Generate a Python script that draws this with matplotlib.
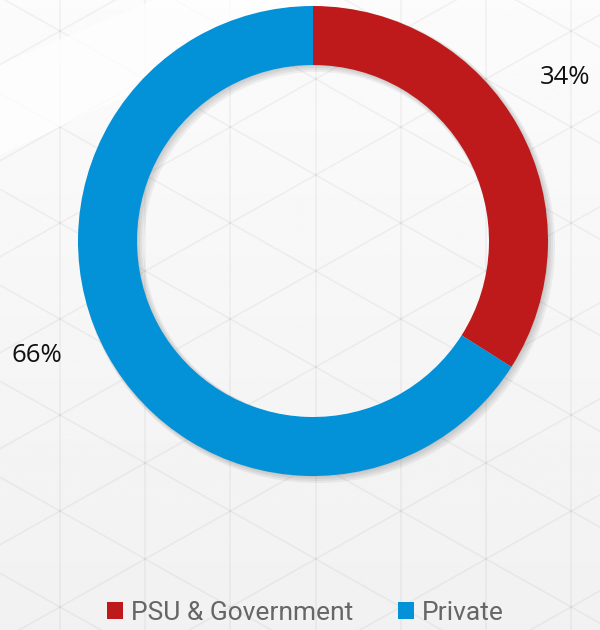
import numpy as np
import matplotlib.pyplot as plt
from matplotlib.patches import Wedge, Polygon, Patch

# data
labels = ["PSU & Government", "Private"]
values = [34, 66]
pct_text = ["34%", "66%"]
colors = ["#BF1A1B", "#0391D8"]

W, H = 600, 630
fig = plt.figure(figsize=(6, 6.3), dpi=100)
fig.patch.set_facecolor("#f3f3f3")
ax = fig.add_axes([0, 0, 1, 1])

# background: light vertical gradient
grad = np.linspace(0.945, 0.985, 256).reshape(-1, 1)
ax.imshow(grad, extent=(0, W, 0, H), origin="lower", cmap="gray",
          vmin=0, vmax=1, aspect="auto", zorder=0)

# faint triangle lattice
dx, dy = 85.2, 48.0
x0 = 60
slope = dy / dx
for k in range(-2, 10):
    ax.axvline(x0 + k * dx, color="black", alpha=0.045, lw=1.2, zorder=0.2)
xs = np.array([-50, W + 50])
for k in range(-30, 30):
    b = k * 2 * dy + 23
    ax.plot(xs, b + slope * (xs - x0), color="black", alpha=0.045, lw=1.2, zorder=0.2)
    ax.plot(xs, b - slope * (xs - x0), color="black", alpha=0.045, lw=1.2, zorder=0.2)

# lighter band top-left
ax.add_patch(Polygon([(0, H - 65), (153, H), (330, H), (0, H - 155)],
                     closed=True, color="white", alpha=0.7, lw=0, zorder=0.5))

cx, cy, r = 313, H - 241, 235
width = 59

# soft shadow behind the ring
for i in range(4):
    off = 1 + i
    ax.add_patch(Wedge((cx + off, cy - off), r + i, 0, 360, width=width + 2 * i,
                       color="black", alpha=0.05, lw=0, zorder=1))

wedges, _ = ax.pie(values, colors=colors, startangle=90, counterclock=False,
                   radius=r, center=(cx, cy), frame=True,
                   wedgeprops=dict(width=width, linewidth=0))
for w in wedges:
    w.set_zorder(2)
ax.set_xlim(0, W)
ax.set_ylim(0, H)
ax.set_aspect("equal")
ax.axis("off")

# percentage labels
label_pos = [(565, H - 78), (37, H - 355)]
for t, (x, y) in zip(pct_text, label_pos):
    ax.text(x, y, t, ha="center", va="center", fontsize=18.5,
            family="Open Sans", color="#111111", zorder=3)

handles = [Patch(facecolor=c, edgecolor="none") for c in colors]
fig.legend(handles, labels, loc="center", bbox_to_anchor=(0.509, 1 - 613 / 630),
           ncol=2, frameon=False, handlelength=0.62, handleheight=0.62,
           handletextpad=0.3, columnspacing=1.7,
           prop={"family": "Roboto", "size": 19}, labelcolor="#666666")

fig.savefig("out.png", dpi=100, facecolor=fig.get_facecolor())
